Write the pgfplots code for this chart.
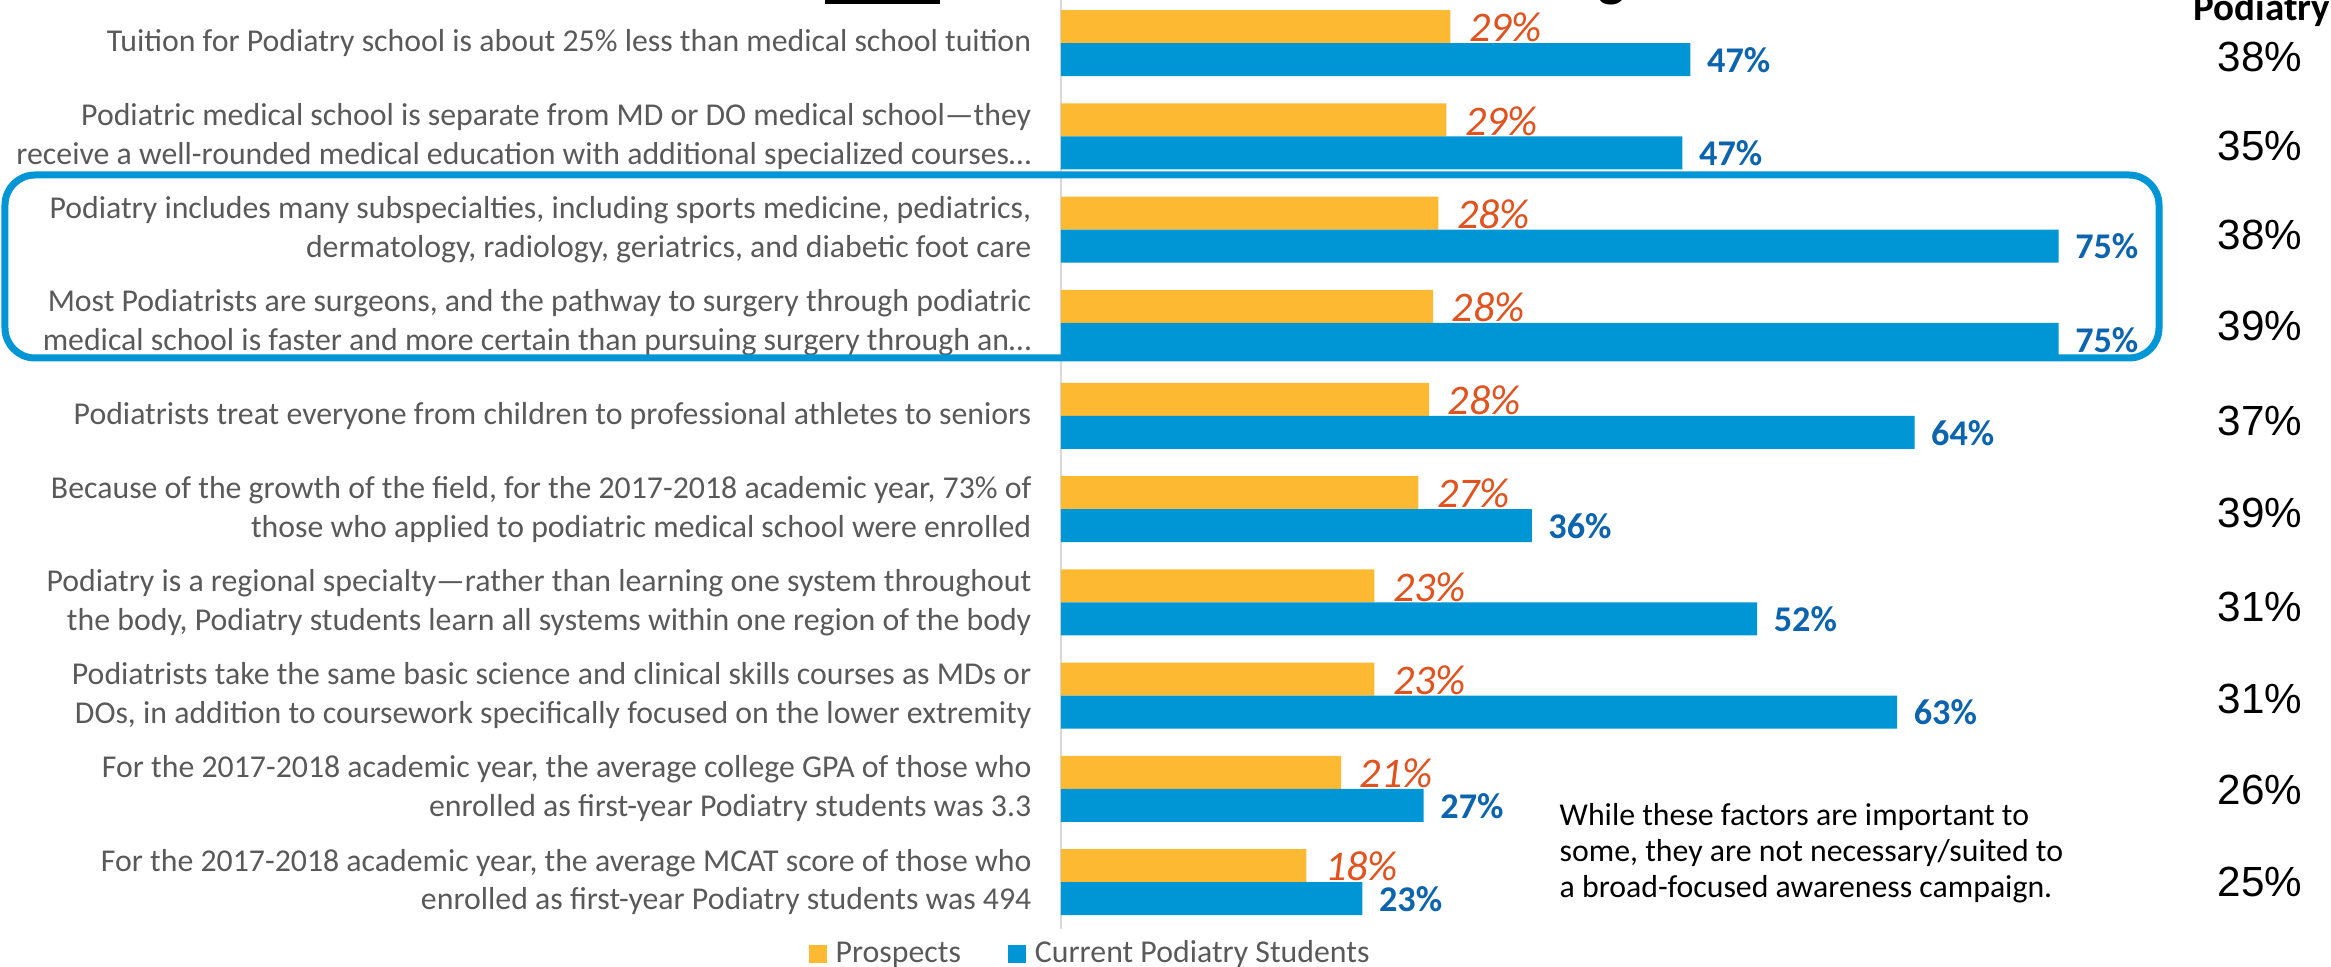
\documentclass[border=0pt]{standalone}
\usepackage{pgfplots}
\pgfplotsset{compat=1.18}
\usepackage{pgfplotstable}
\usepackage{fontspec}
\setmainfont{Carlito}
\newfontfamily\arialf{Liberation Sans}
\definecolor{orgbar}{RGB}{253,185,50}
\definecolor{blubar}{RGB}{0,150,214}
\definecolor{orglab}{RGB}{224,82,30}
\definecolor{blulab}{RGB}{12,100,175}
\definecolor{labgray}{RGB}{89,89,89}
\definecolor{axgray}{RGB}{217,217,217}

\pgfplotstableread{
y val lab
10 29.2 29
9 28.9 29
8 28.3 28
7 27.9 28
6 27.6 28
5 26.8 27
4 23.5 23
3 23.5 23
2 21.0 21
1 18.4 18
}\prosp

\pgfplotstableread{
y val lab
10 47.2 47
9 46.6 47
8 74.8 75
7 74.8 75
6 64.0 64
5 35.3 36
4 52.2 52
3 62.7 63
2 27.2 27
1 22.6 23
}\curr

\pgfplotstableread{
x y lab
89.9 9.85 38
89.9 8.90 35
89.9 7.94 38
89.9 6.97 39
89.9 5.95 37
89.9 4.96 39
89.9 3.95 31
89.9 2.96 31
89.9 1.99 26
89.9 1.00 25
}\podi

\begin{document}
\begin{tikzpicture}[x=0.1mm,y=0.1mm]
\begin{axis}[
  at={(0pt,0pt)}, anchor=south west, scale only axis,
  width=126.7mm, height=92.83mm,
  xmin=0, xmax=95, ymin=0.5, ymax=10.46,
  axis x line=none, axis y line*=left,
  y axis line style={draw=axgray, line width=0.6pt},
  ytick={1,...,10}, major tick length=0pt,
  yticklabels={
    {For the 2017-2018 academic year, the average MCAT score of those who\\enrolled as first-year Podiatry students was 494},
    {For the 2017-2018 academic year, the average college GPA of those who\\enrolled as first-year Podiatry students was 3.3},
    {Podiatrists take the same basic science and clinical skills courses as MDs or\\DOs, in addition to coursework specifically focused on the lower extremity},
    {Podiatry is a regional specialty—rather than learning one system throughout\\the body, Podiatry students learn all systems within one region of the body},
    {Because of the growth of the field, for the 2017-2018 academic year, 73\% of\\those who applied to podiatric medical school were enrolled},
    {Podiatrists treat everyone from children to professional athletes to seniors},
    {Most Podiatrists are surgeons, and the pathway to surgery through podiatric\\medical school is faster and more certain than pursuing surgery through an…},
    {Podiatry includes many subspecialties, including sports medicine, pediatrics,\\dermatology, radiology, geriatrics, and diabetic foot care},
    {Podiatric medical school is separate from MD or DO medical school—they\\receive a well-rounded medical education with additional specialized courses…},
    {Tuition for Podiatry school is about 25\% less than medical school tuition}
  },
  yticklabel style={align=right, font=\fontsize{9.05}{11}\selectfont, text=labgray, inner sep=0pt, xshift=-2.9mm},
  clip=false,
  legend columns=2,
  legend style={at={(-0.1997,-0.0279)}, anchor=west, draw=none, fill=none,
    inner sep=0pt, font=\fontsize{9.05}{11}\selectfont, text=labgray,
    nodes={inner sep=0pt},
    /tikz/every odd column/.append style={column sep=0.9mm},
    /tikz/every even column/.append style={column sep=4.7mm}},
]
\addplot[xbar, fill=orgbar, draw=none, bar width=3.3mm, bar shift=1.65mm,
  point meta=explicit symbolic, nodes near coords={\pgfplotspointmeta\%},
  nodes near coords align={horizontal},
  every node near coord/.append style={anchor=west, inner sep=0pt, xshift=1.8mm, yshift=1.55mm,
    font=\itshape\fontsize{12}{13}\selectfont, text=orglab},
  legend image code/.code={\fill[orgbar] (0mm,-0.9mm) rectangle (1.8mm,0.9mm);}]
  table[x=val, y=y, meta=lab] {\prosp};
\addlegendentry{Prospects}
\addplot[xbar, fill=blubar, draw=none, bar width=3.3mm, bar shift=-1.65mm,
  point meta=explicit symbolic, nodes near coords={\pgfplotspointmeta\%},
  nodes near coords align={horizontal},
  every node near coord/.append style={anchor=west, inner sep=0pt, xshift=1.6mm, yshift=-1.7mm,
    font=\bfseries\fontsize{10.3}{12}\selectfont, text=blulab},
  legend image code/.code={\fill[blubar] (0mm,-0.9mm) rectangle (1.8mm,0.9mm);}]
  table[x=val, y=y, meta=lab] {\curr};
\addlegendentry{Current Podiatry Students}
\addplot[draw=none, mark=none, forget plot,
  point meta=explicit symbolic, nodes near coords={\pgfplotspointmeta\%},
  every node near coord/.append style={anchor=center, inner sep=0pt,
    font=\arialf\fontsize{12}{13}\selectfont, text=black}]
  table[x=x, y=y, meta=lab] {\podi};
\end{axis}
\begin{scope}[shift={(-1061,-37.4)}]
% highlight box
\draw[blubar, line width=0.7mm, rounded corners=3mm] (5,608) rectangle (2159,791);
% column header
\node[anchor=base, inner sep=0pt, font=\bfseries\fontsize{11.1}{13}\selectfont] at (2262,945) {Podiatry};
% note
\node[anchor=west, align=left, inner sep=0pt, font=\fontsize{9.05}{10.2}\selectfont, text=black] at (1559,113)
  {While these factors are important to\\some, they are not necessary/suited to\\a broad-focused awareness campaign.};
% remnants of the cut-off title
\fill[black] (825,962) rectangle (940,970);
\node[anchor=base, inner sep=0pt, font=\bfseries\fontsize{16}{16}\selectfont] at (1612,970) {g};
\end{scope}
\pgfresetboundingbox
\useasboundingbox (-1061,-37.4) rectangle (1270,928.6);
\end{tikzpicture}
\end{document}
